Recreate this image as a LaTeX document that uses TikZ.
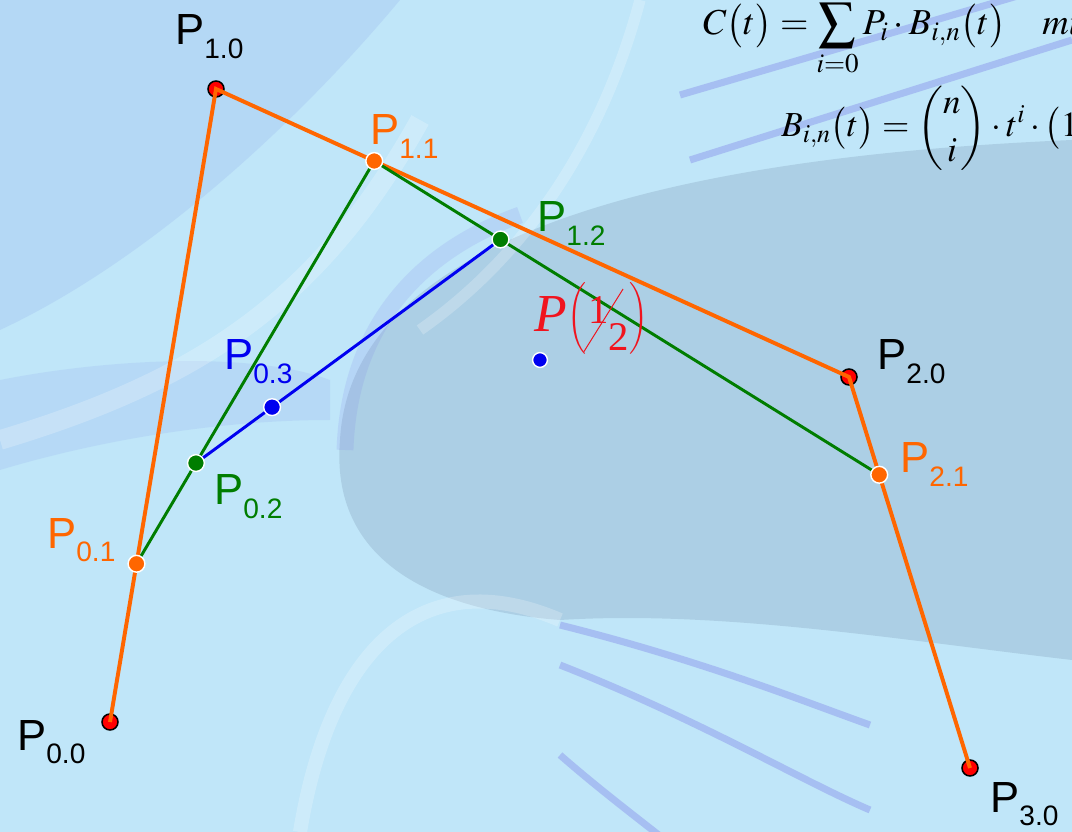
\documentclass[tikz,border=0pt]{standalone}
\usepackage{amsmath}
\usepackage{mathptmx}
\usepackage{fontspec}
\setmainfont{Liberation Serif}
\setsansfont{Liberation Sans}
\usetikzlibrary{calc}
\definecolor{bgblue}{RGB}{192,230,249}
\definecolor{bgperi}{RGB}{160,190,240}
\definecolor{bggrey}{RGB}{168,202,224}
\definecolor{streakblue}{RGB}{120,120,230}
\definecolor{ptorange}{RGB}{255,102,0}
\definecolor{ptgreen}{RGB}{0,125,0}
\definecolor{ptblue}{RGB}{0,0,240}
\definecolor{halfred}{RGB}{240,20,30}
\newcommand\subidx[1]{\raisebox{-0.33cm}{\fontsize{20}{20}\selectfont#1}}
\tikzset{
  ctrl/.style={circle, draw=black, fill=red, line width=1.1pt, inner sep=0pt, minimum size=0.4cm},
  midpt/.style={circle, draw=white, fill=#1, line width=1pt, inner sep=0pt, minimum size=0.42cm},
  lbl/.style={anchor=base west, inner sep=0pt, font=\sffamily\fontsize{31}{31}\selectfont},
  streak/.style={streakblue, opacity=0.35, line width=5pt},
  glow/.style={white, opacity=0.22, line width=#1}
}
\begin{document}
\begin{tikzpicture}[x=0.025cm, y=-0.025cm]
  \useasboundingbox (0,0) rectangle (1072,832);
  \clip (0,0) rectangle (1072,832);
  % background
  \fill[bgblue] (0,0) rectangle (1072,832);
  \fill[bgperi, opacity=0.35] (0,0) -- (400,0) .. controls (300,120) and (150,260) .. (0,330) -- cycle;
  \fill[bgperi, opacity=0.3] (0,380) .. controls (100,360) and (250,350) .. (330,380) -- (330,420) .. controls (220,420) and (100,440) .. (0,470) -- cycle;
  \fill[bggrey, opacity=0.8] (340,440) .. controls (350,260) and (600,160) .. (1072,140)
    -- (1072,660) .. controls (900,640) and (720,610) .. (560,620)
    .. controls (430,610) and (330,560) .. (340,440) -- cycle;
  \draw[streakblue, opacity=0.15, line width=12pt] (345,450) .. controls (350,300) and (450,240) .. (520,215);
  \draw[glow=14pt] (0,440) .. controls (200,380) and (320,300) .. (420,120);
  \draw[glow=10pt] (300,832) .. controls (330,650) and (420,560) .. (560,620);
  \draw[glow=8pt] (640,0) .. controls (600,150) and (520,260) .. (420,330);
  \draw[streak] (680,95) -- (1072,-20);
  \draw[streak] (690,160) -- (1072,40);
  \draw[streak] (560,625) .. controls (700,660) and (800,700) .. (870,725);
  \draw[streak] (560,665) .. controls (700,720) and (800,780) .. (870,810);
  \draw[streak] (560,755) .. controls (600,790) and (640,820) .. (665,840);
  % formulas
  \node[anchor=base west, inner sep=0pt, font=\fontsize{26}{30}\selectfont] (cdef) at (703,35)
    {$\displaystyle C\bigl(t\bigr)=\sum_{i=0}P_i\cdot B_{i,n}\bigl(t\bigr)\quad mit$};
  \node[anchor=base west, inner sep=0pt, font=\fontsize{25}{30}\selectfont] (bdef) at (781,137)
    {$\displaystyle B_{i,n}\bigl(t\bigr)=\binom{n}{i}\cdot t^i\cdot\bigl(1-t\bigr)^{n-i}$};
  % control points
  \node[ctrl] (p00) at (110,722) {};
  \node[ctrl] (p10) at (216,89) {};
  \node[ctrl] (p20) at (849,377) {};
  \node[ctrl] (p30) at (970,768) {};
  % de Casteljau, t = 1/4
  \coordinate (p01) at ($(p00.center)!0.25!(p10.center)$);
  \coordinate (p11) at ($(p10.center)!0.25!(p20.center)$);
  \coordinate (p21) at ($(p20.center)!0.25!(p30.center)$);
  \coordinate (p02) at ($(p01)!0.25!(p11)$);
  \coordinate (p12) at ($(p11)!0.25!(p21)$);
  \coordinate (p03) at ($(p02)!0.25!(p12)$);
  \draw[ptorange, line width=2.8pt] (p00.center) -- (p10.center) -- (p20.center) -- (p30.center);
  \draw[ptgreen, line width=2.1pt] (p01) -- (p11) -- (p21);
  \draw[ptblue, line width=2.1pt] (p02) -- (p12);
  \node[midpt=ptorange] (d01) at (p01) {};
  \node[midpt=ptorange] (d11) at (p11) {};
  \node[midpt=ptorange] (d21) at (p21) {};
  \node[midpt=ptgreen] (d02) at (p02) {};
  \node[midpt=ptgreen] (d12) at (p12) {};
  \node[midpt=ptblue] (d03) at (p03) {};
  \node[midpt=ptblue, minimum size=0.37cm] (half) at (540,360) {};
  % labels
  \node[lbl] (l00) at (17,750) {P\subidx{0.0}};
  \node[lbl, text=ptorange] (l01) at (47,548) {P\subidx{0.1}};
  \node[lbl, text=ptgreen] (l02) at (214,505) {P\subidx{0.2}};
  \node[lbl, text=ptblue] (l03) at (224,370) {P\subidx{0.3}};
  \node[lbl] (l10) at (175,45) {P\subidx{1.0}};
  \node[lbl, text=ptorange] (l11) at (370,145) {P\subidx{1.1}};
  \node[lbl, text=ptgreen] (l12) at (537,232) {P\subidx{1.2}};
  \node[lbl] (l20) at (877,370) {P\subidx{2.0}};
  \node[lbl, text=ptorange] (l21) at (900,473) {P\subidx{2.1}};
  \node[lbl] (l30) at (990,812) {P\subidx{3.0}};
  \node[anchor=base west, inner sep=0pt, text=halfred, font=\fontsize{38}{38}\selectfont] (lhalf) at (534,332)
    {\textit{P}\kern0.02cm\raisebox{0.2cm}{\fontsize{17}{17}\selectfont$\Biggl($}\kern-0.08cm%
     \rlap{\raisebox{-0.5cm}{\rotatebox{58}{\rule{1.85cm}{0.7pt}}}}%
     \kern0.12cm\raisebox{0.2cm}{\fontsize{29}{29}\selectfont 1}%
     \raisebox{-0.45cm}{\fontsize{29}{29}\selectfont 2}%
     \raisebox{0.2cm}{\fontsize{17}{17}\selectfont$\Biggr)$}};
\end{tikzpicture}
\end{document}
